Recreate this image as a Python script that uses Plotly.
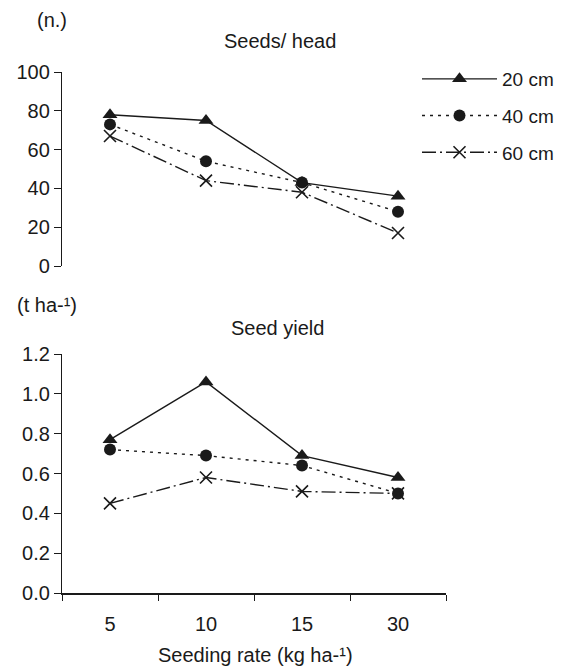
import plotly.graph_objects as go

categories = ["5", "10", "15", "30"]
series_names = ["20 cm", "40 cm", "60 cm"]
seeds_20 = [78, 75, 43, 36]
seeds_40 = [73, 54, 43, 28]
seeds_60 = [67, 44, 38, 17]
yield_20 = [0.77, 1.06, 0.69, 0.58]
yield_40 = [0.72, 0.69, 0.64, 0.50]
yield_60 = [0.45, 0.58, 0.51, 0.50]
seeds_ticks = [0, 20, 40, 60, 80, 100]
yield_ticks = [0.0, 0.2, 0.4, 0.6, 0.8, 1.0, 1.2]

FONT = "Liberation Sans, Arial, sans-serif"
INK = "#1a1a1a"

styles = [
    dict(dash="solid", symbol="triangle-up", size=13, lw=0),
    dict(dash="3px,5px", symbol="circle", size=12, lw=0),
    dict(dash="14px,4px,2px,4px", symbol="x-thin-open", size=12, lw=1.6),
]

fig = go.Figure()
top = [seeds_20, seeds_40, seeds_60]
bot = [yield_20, yield_40, yield_60]
for i, name in enumerate(series_names):
    st = styles[i]
    marker = dict(symbol=st["symbol"], size=st["size"], color=INK,
                  line=dict(width=st["lw"], color=INK))
    fig.add_trace(go.Scatter(x=categories, y=top[i], name=name, mode="lines+markers",
                             line=dict(color=INK, width=1.4, dash=st["dash"]),
                             marker=marker, xaxis="x", yaxis="y", legendgroup=name,
                             showlegend=True))
    fig.add_trace(go.Scatter(x=categories, y=bot[i], name=name, mode="lines+markers",
                             line=dict(color=INK, width=1.4, dash=st["dash"]),
                             marker=marker, xaxis="x2", yaxis="y2", legendgroup=name,
                             showlegend=False))

W, H = 563, 669
xdom = [62 / W, 446 / W]
fig.update_layout(
    width=W, height=H, autosize=False,
    margin=dict(l=0, r=0, t=0, b=0, pad=0, autoexpand=False),
    paper_bgcolor="white", plot_bgcolor="white",
    font=dict(family=FONT, size=19, color=INK),
    showlegend=True,
    legend=dict(x=417 / W, y=1 - 60 / H, xanchor="left", yanchor="top",
                font=dict(size=19), tracegroupgap=9, traceorder="grouped",
                itemwidth=75, bgcolor="rgba(0,0,0,0)"),
    xaxis=dict(domain=xdom, anchor="y", type="category", categoryorder="array",
               categoryarray=categories, range=[-0.5, 3.5], visible=False,
               automargin=False),
    yaxis=dict(domain=[1 - 266 / H, 1 - 72 / H], anchor="x", range=[0, 100],
               tickvals=seeds_ticks, ticks="outside", ticklen=7, tickwidth=1.3,
               tickcolor=INK, showline=True, linecolor=INK, linewidth=1.3,
               showgrid=False, zeroline=False, automargin=False,
               tickfont=dict(size=20)),
    xaxis2=dict(domain=xdom, anchor="y2", type="category", categoryorder="array",
                categoryarray=categories, range=[-0.5, 3.5], tickson="boundaries",
                ticks="outside", ticklen=6, tickwidth=1.3, tickcolor=INK,
                showline=True, linecolor=INK, linewidth=1.6, showgrid=False,
                ticklabelstandoff=12, automargin=False, tickfont=dict(size=20)),
    yaxis2=dict(domain=[1 - 593 / H, 1 - 354 / H], anchor="x2", range=[0, 1.2],
                tickvals=yield_ticks, tickformat=".1f", ticks="outside", ticklen=7,
                tickwidth=1.3, tickcolor=INK, showline=True, linecolor=INK,
                linewidth=1.3, showgrid=False, zeroline=False, automargin=False,
                tickfont=dict(size=20)),
)

def note(text, x, y, size=20, anchor="center"):
    fig.add_annotation(text=text, x=x / W, y=1 - y / H, xref="paper", yref="paper",
                       showarrow=False, xanchor=anchor, yanchor="middle",
                       font=dict(size=size, family=FONT, color=INK))

note("(n.)", 35, 20, anchor="left")
note("Seeds/ head", 280, 41)
note("(t ha-¹)", 15, 305, anchor="left")
note("Seed yield", 277, 328)
note("Seeding rate (kg ha-¹)", 255, 655)

fig.write_html("out.html", config={"displayModeBar": False},
               post_script="document.body.style.margin='0';document.body.style.overflow='hidden';")
